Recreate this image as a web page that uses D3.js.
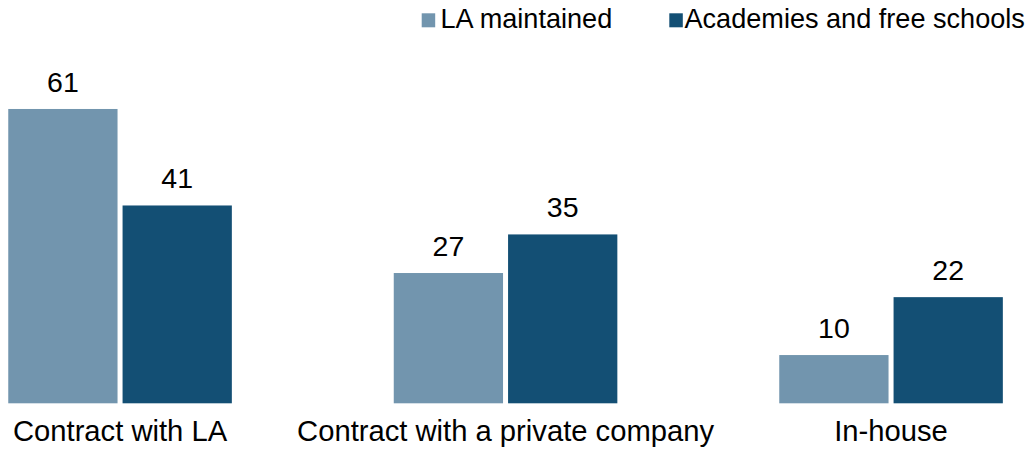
<!DOCTYPE html>
<html>
<head>
<meta charset="utf-8">
<script src="https://cdn.jsdelivr.net/npm/d3@7"></script>
<style>
  html, body { margin: 0; padding: 0; background: #fff; }
  svg { display: block; font-family: "Liberation Sans", Arial, sans-serif; }
</style>
</head>
<body>
<svg id="chart" width="1032" height="457"></svg>
<script>
const categories = ["Contract with LA", "Contract with a private company", "In-house"];
const seriesNames = ["LA maintained", "Academies and free schools"];
const laMaintained = [61, 27, 10];
const academies = [41, 35, 22];
const colors = ["#7295AE", "#134F74"];

const svg = d3.select("#chart");
const baseline = 403.3;

const x0 = d3.scaleBand()
  .domain(categories)
  .range([-72.7, 1083.8])
  .paddingInner(0.42)
  .paddingOuter(0.21);

const x1 = d3.scaleBand()
  .domain(seriesNames)
  .range([0, x0.bandwidth()])
  .paddingInner(0.044);

const y = d3.scaleLinear().domain([0, 70]).range([baseline, baseline - 4.825 * 70]);
const color = d3.scaleOrdinal().domain(seriesNames).range(colors);

const data = categories.map((c, i) => ({
  category: c,
  values: [
    { series: seriesNames[0], value: laMaintained[i] },
    { series: seriesNames[1], value: academies[i] }
  ]
}));

const groups = svg.append("g").selectAll("g")
  .data(data).join("g")
  .attr("transform", d => `translate(${x0(d.category)},0)`);

groups.selectAll("rect")
  .data(d => d.values).join("rect")
  .attr("x", d => x1(d.series))
  .attr("width", x1.bandwidth())
  .attr("y", d => y(d.value))
  .attr("height", d => y(0) - y(d.value))
  .attr("fill", d => color(d.series));

groups.selectAll("text.val")
  .data(d => d.values).join("text")
  .attr("class", "val")
  .attr("x", d => x1(d.series) + x1.bandwidth() / 2)
  .attr("y", d => y(d.value) - 17)
  .attr("text-anchor", "middle")
  .attr("font-size", 28.5)
  .attr("fill", "#000")
  .text(d => d.value);

// category axis
const xAxis = d3.axisBottom(x0).tickSize(0).tickPadding(0);
const ax = svg.append("g")
  .attr("transform", `translate(0,${baseline})`)
  .call(xAxis);
ax.select(".domain").remove();
ax.selectAll("text")
  .attr("font-size", 29.2)
  .attr("font-family", "'Liberation Sans', Arial, sans-serif")
  .attr("fill", "#000")
  .attr("dy", null)
  .attr("y", 38);

// legend
const legendPos = [421.7, 669.3];
const legendTextX = [440.5, 684.5];
const legend = svg.append("g");
seriesNames.forEach((s, i) => {
  legend.append("rect")
    .attr("x", legendPos[i]).attr("y", 13.3)
    .attr("width", 13.5).attr("height", 14)
    .attr("fill", color(s));
  legend.append("text")
    .attr("x", legendTextX[i]).attr("y", 28.3)
    .attr("font-size", 27.1)
    .attr("fill", "#000")
    .text(s);
});
</script>
</body>
</html>
